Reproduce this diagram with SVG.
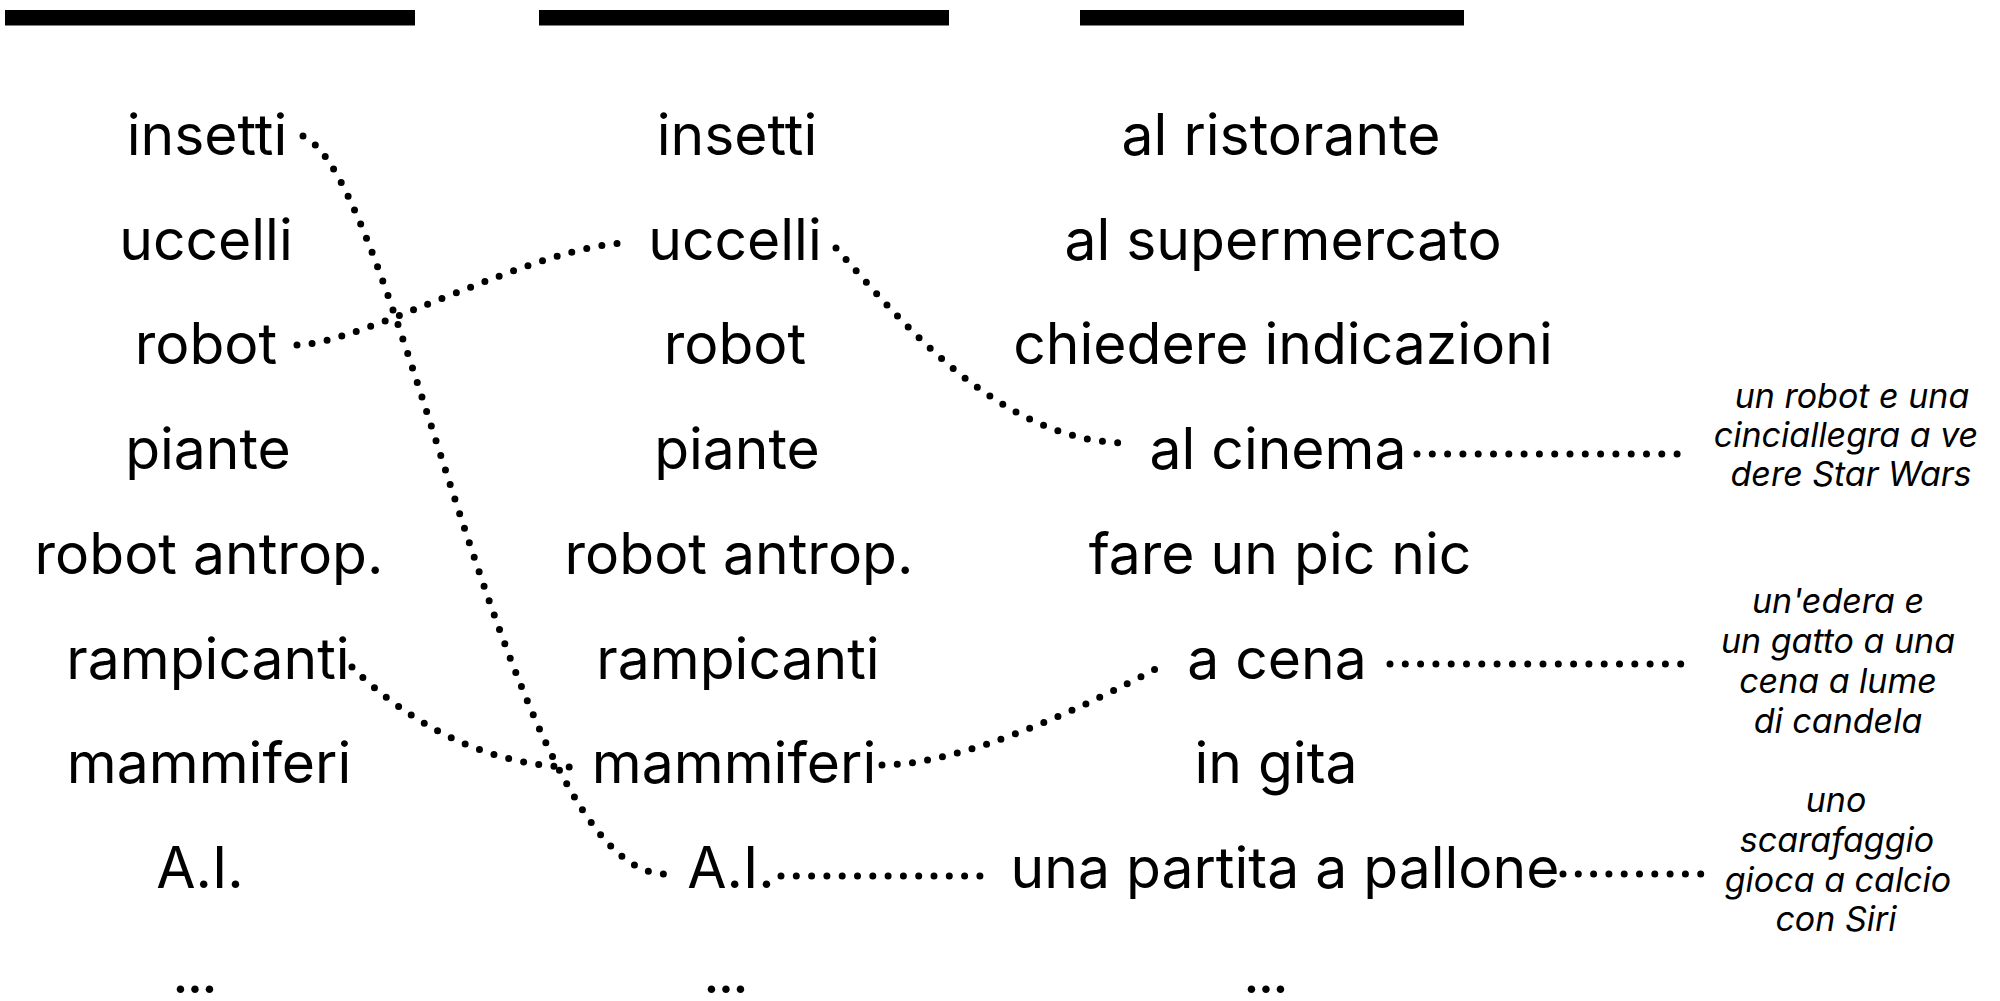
<svg xmlns="http://www.w3.org/2000/svg" width="2000" height="1001" viewBox="0 0 2000 1001">
<style>
  .t { font-family: Inter, "Liberation Sans", sans-serif; font-size: 57px; fill: #000; text-anchor: middle; }
  .n { font-family: Inter, "Liberation Sans", sans-serif; font-size: 34px; font-style: italic; fill: #000; text-anchor: middle; }
  .c { fill: none; stroke: #000; stroke-width: 7; stroke-linecap: round; stroke-dasharray: 0 15.3; }
  .bar { fill: #000; }
</style>
<rect width="2000" height="1001" fill="#fff"/>
<g id="headers">
  <rect class="bar" x="5" y="10" width="410" height="15.5"/>
  <rect class="bar" x="539" y="10" width="410" height="15.5"/>
  <rect class="bar" x="1080" y="10" width="384" height="15.5"/>
</g>
<g id="column1">
  <g id="c1-insetti"><text class="t" x="207" y="155">insetti</text></g>
  <g id="c1-uccelli"><text class="t" x="206" y="259.7">uccelli</text></g>
  <g id="c1-robot"><text class="t" x="206" y="364.4">robot</text></g>
  <g id="c1-piante"><text class="t" x="208" y="469.1">piante</text></g>
  <g id="c1-robot-antrop"><text class="t" x="209" y="573.8">robot antrop.</text></g>
  <g id="c1-rampicanti"><text class="t" x="208" y="678.5">rampicanti</text></g>
  <g id="c1-mammiferi"><text class="t" x="209" y="783.2">mammiferi</text></g>
  <g id="c1-ai"><text class="t" x="200" y="887.9">A.I.</text></g>
  <g id="c1-more"><text class="t" x="194" y="992.6" letter-spacing="-2">...</text></g>
</g>
<g id="column2">
  <g id="c2-insetti"><text class="t" x="737" y="155">insetti</text></g>
  <g id="c2-uccelli"><text class="t" x="735" y="259.7">uccelli</text></g>
  <g id="c2-robot"><text class="t" x="735" y="364.4">robot</text></g>
  <g id="c2-piante"><text class="t" x="737" y="469.1">piante</text></g>
  <g id="c2-robot-antrop"><text class="t" x="739" y="573.8">robot antrop.</text></g>
  <g id="c2-rampicanti"><text class="t" x="738" y="678.5">rampicanti</text></g>
  <g id="c2-mammiferi"><text class="t" x="734" y="783.2">mammiferi</text></g>
  <g id="c2-ai"><text class="t" x="731" y="887.9">A.I.</text></g>
  <g id="c2-more"><text class="t" x="725" y="992.6" letter-spacing="-2">...</text></g>
</g>
<g id="column3">
  <g id="c3-ristorante"><text class="t" x="1281" y="155">al ristorante</text></g>
  <g id="c3-supermercato"><text class="t" x="1283" y="259.7">al supermercato</text></g>
  <g id="c3-indicazioni"><text class="t" x="1283" y="364.4">chiedere indicazioni</text></g>
  <g id="c3-cinema"><text class="t" x="1278" y="469.1">al cinema</text></g>
  <g id="c3-picnic"><text class="t" x="1280" y="573.8">fare un pic nic</text></g>
  <g id="c3-cena"><text class="t" x="1277" y="678.5">a cena</text></g>
  <g id="c3-gita"><text class="t" x="1276" y="783.2">in gita</text></g>
  <g id="c3-partita"><text class="t" x="1285" y="887.9">una partita a pallone</text></g>
  <g id="c3-more"><text class="t" x="1265" y="992.6" letter-spacing="-2">...</text></g>
</g>
<g id="notes">
  <g id="note-starwars">
    <text class="n" x="1852" y="408">un robot e una</text>
    <text class="n" x="1846" y="447">cinciallegra a ve</text>
    <text class="n" x="1851" y="486">dere Star Wars</text>
  </g>
  <g id="note-cena">
    <text class="n" x="1838" y="613">un'edera e</text>
    <text class="n" x="1838" y="653">un gatto a una</text>
    <text class="n" x="1838" y="693">cena a lume</text>
    <text class="n" x="1838" y="733">di candela</text>
  </g>
  <g id="note-siri">
    <text class="n" x="1836" y="812">uno</text>
    <text class="n" x="1837" y="852">scarafaggio</text>
    <text class="n" x="1838" y="892">gioca a calcio</text>
    <text class="n" x="1836" y="931">con Siri</text>
  </g>
</g>
<g id="connectors">
  <path class="c" d="M303,136 C400,180 510,874 665,874"/>
  <path class="c" d="M297,345 C360,345 540,243 629,243"/>
  <path class="c" d="M836,248 C900,320 1000,443 1128,443"/>
  <path class="c" d="M352,667 C400,715 480,767 575,767"/>
  <path class="c" d="M882,765 C960,765 1080,710 1165,664"/>
  <path class="c" d="M781,876 H982"/>
  <path class="c" d="M1417,454 H1690"/>
  <path class="c" d="M1390,664 H1684"/>
  <path class="c" d="M1563,874 H1705"/>
</g>
</svg>
